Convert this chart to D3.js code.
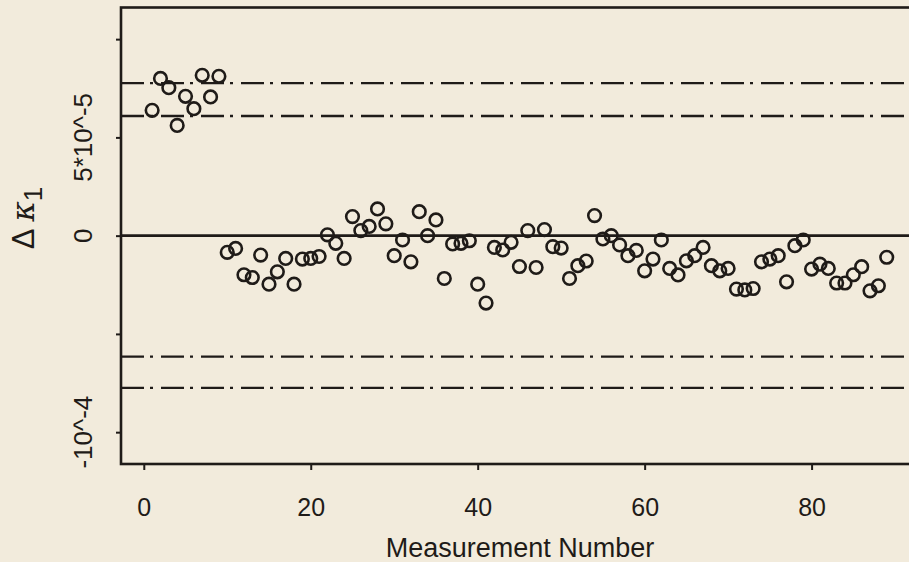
<!DOCTYPE html>
<html>
<head>
<meta http-equiv="Content-type" content="text/html; charset=utf-8">
<title>Delta kappa1 by measurement</title>
<script src="https://d3js.org/d3.v7.min.js"></script>
<style>
  body { margin: 0; background: #f2ebdc; }
  svg { display: block; }
  text { font-family: "Liberation Sans", Arial, Helvetica, sans-serif; fill: #1f1b18; }
</style>
</head>
<body>
<script type="text/javascript">

  // delta kappa1 per measurement, in units of 1e-5 (measurement number = index + 1)
  var deltaK = [
     6.38,  8.00,  7.53,  5.61,  7.09,  6.46,  8.16,  7.06,  8.11, -0.85,
    -0.65, -1.99, -2.13, -0.99, -2.47, -1.84, -1.16, -2.47, -1.19, -1.16,
    -1.06,  0.04, -0.39, -1.16,  0.97,  0.26,  0.47,  1.36,  0.60, -1.02,
    -0.22, -1.33,  1.22,  0.00,  0.80, -2.18, -0.42, -0.39, -0.26, -2.47,
    -3.43, -0.60, -0.73, -0.34, -1.57,  0.26, -1.62,  0.31, -0.56, -0.63,
    -2.18, -1.53, -1.29,  1.02, -0.17,  0.00, -0.47, -1.02, -0.75, -1.79,
    -1.19, -0.22, -1.67, -2.00, -1.28, -1.02, -0.60, -1.53, -1.79, -1.67,
    -2.72, -2.76, -2.69, -1.33, -1.19, -1.02, -2.35, -0.51, -0.22, -1.70,
    -1.45, -1.67, -2.41, -2.41, -1.99, -1.58, -2.81, -2.55, -1.10
  ];

  // control limits (dash-dot), units of 1e-5
  var limits = [7.76, 6.09, -6.16, -7.75];

  var xTicks = [0, 20, 40, 60, 80];
  var yTicks = [-10, -5, 0, 5, 10];
  var yTickLabels = {"-10": "-10^-4", "0": "0", "5": "5*10^-5"};

  var W = 909, H = 562;
  var ink = "#1f1b18";

  var plot = {left: 121, top: 7.5, bottom: 464};

  var x = d3.scaleLinear().domain([-2.73, 94.5]).range([plot.left, plot.left + 97.23 * 8.3475]);
  var y = d3.scaleLinear().domain([-11.62, 11.61]).range([plot.bottom, plot.top]);

  var svg = d3.select("body").append("svg")
    .attr("width", W).attr("height", H);

  svg.append("rect").attr("width", W).attr("height", H).attr("fill", "#f2ebdc");

  // frame (right side runs off the page)
  svg.append("rect")
    .attr("x", plot.left).attr("y", plot.top)
    .attr("width", x.range()[1] - plot.left).attr("height", plot.bottom - plot.top)
    .attr("fill", "none").attr("stroke", ink).attr("stroke-width", 2.6);

  // x axis
  var xAxis = svg.append("g")
    .attr("transform", "translate(0," + plot.bottom + ")")
    .call(d3.axisBottom(x).tickValues(xTicks).tickSize(6).tickPadding(28));
  xAxis.select(".domain").remove();
  xAxis.selectAll("line").attr("stroke", ink).attr("stroke-width", 2);
  xAxis.selectAll("text").attr("font-size", 25).attr("fill", ink);

  // y axis: ticks only, labels are drawn rotated below
  var yAxis = svg.append("g")
    .attr("transform", "translate(" + plot.left + ",0)")
    .call(d3.axisLeft(y).tickValues(yTicks).tickSize(5).tickFormat(""));
  yAxis.select(".domain").remove();
  yAxis.selectAll("line").attr("stroke", ink).attr("stroke-width", 2);

  svg.selectAll(".ylab")
    .data(yTicks.filter(function(d) { return yTickLabels[d] !== undefined; }))
    .enter().append("text")
    .attr("class", "ylab")
    .attr("transform", function(d) { return "translate(92," + y(d) + ") rotate(-90)"; })
    .attr("text-anchor", "middle")
    .attr("font-size", 26)
    .text(function(d) { return yTickLabels[d]; });

  // zero line
  svg.append("line")
    .attr("x1", plot.left).attr("x2", W)
    .attr("y1", y(0)).attr("y2", y(0))
    .attr("stroke", ink).attr("stroke-width", 2.6);

  // dash-dot limit lines
  svg.selectAll(".limit")
    .data(limits)
    .enter().append("line")
    .attr("class", "limit")
    .attr("x1", plot.left).attr("x2", W)
    .attr("y1", function(d) { return y(d); })
    .attr("y2", function(d) { return y(d); })
    .attr("stroke", ink).attr("stroke-width", 2.3)
    .attr("stroke-dasharray", "23,6,3,8");

  // measurements
  svg.selectAll(".pt")
    .data(deltaK)
    .enter().append("circle")
    .attr("class", "pt")
    .attr("cx", function(d, i) { return x(i + 1); })
    .attr("cy", function(d) { return y(d); })
    .attr("r", 6.3)
    .attr("fill", "none")
    .attr("stroke", ink)
    .attr("stroke-width", 2.6);

  // axis titles
  svg.append("text")
    .attr("x", 520).attr("y", 557)
    .attr("text-anchor", "middle")
    .attr("font-size", 27)
    .text("Measurement Number");

  var yt = svg.append("text")
    .attr("transform", "translate(34,218) rotate(-90)")
    .attr("text-anchor", "middle")
    .attr("font-size", 31);
  yt.append("tspan").text("\u0394 ");
  yt.append("tspan").attr("font-style", "italic").attr("font-family", "DejaVu Serif, serif").text("\u03ba");
  yt.append("tspan").attr("dy", 8).attr("font-size", 26).text("1");

</script>
</body>
</html>
